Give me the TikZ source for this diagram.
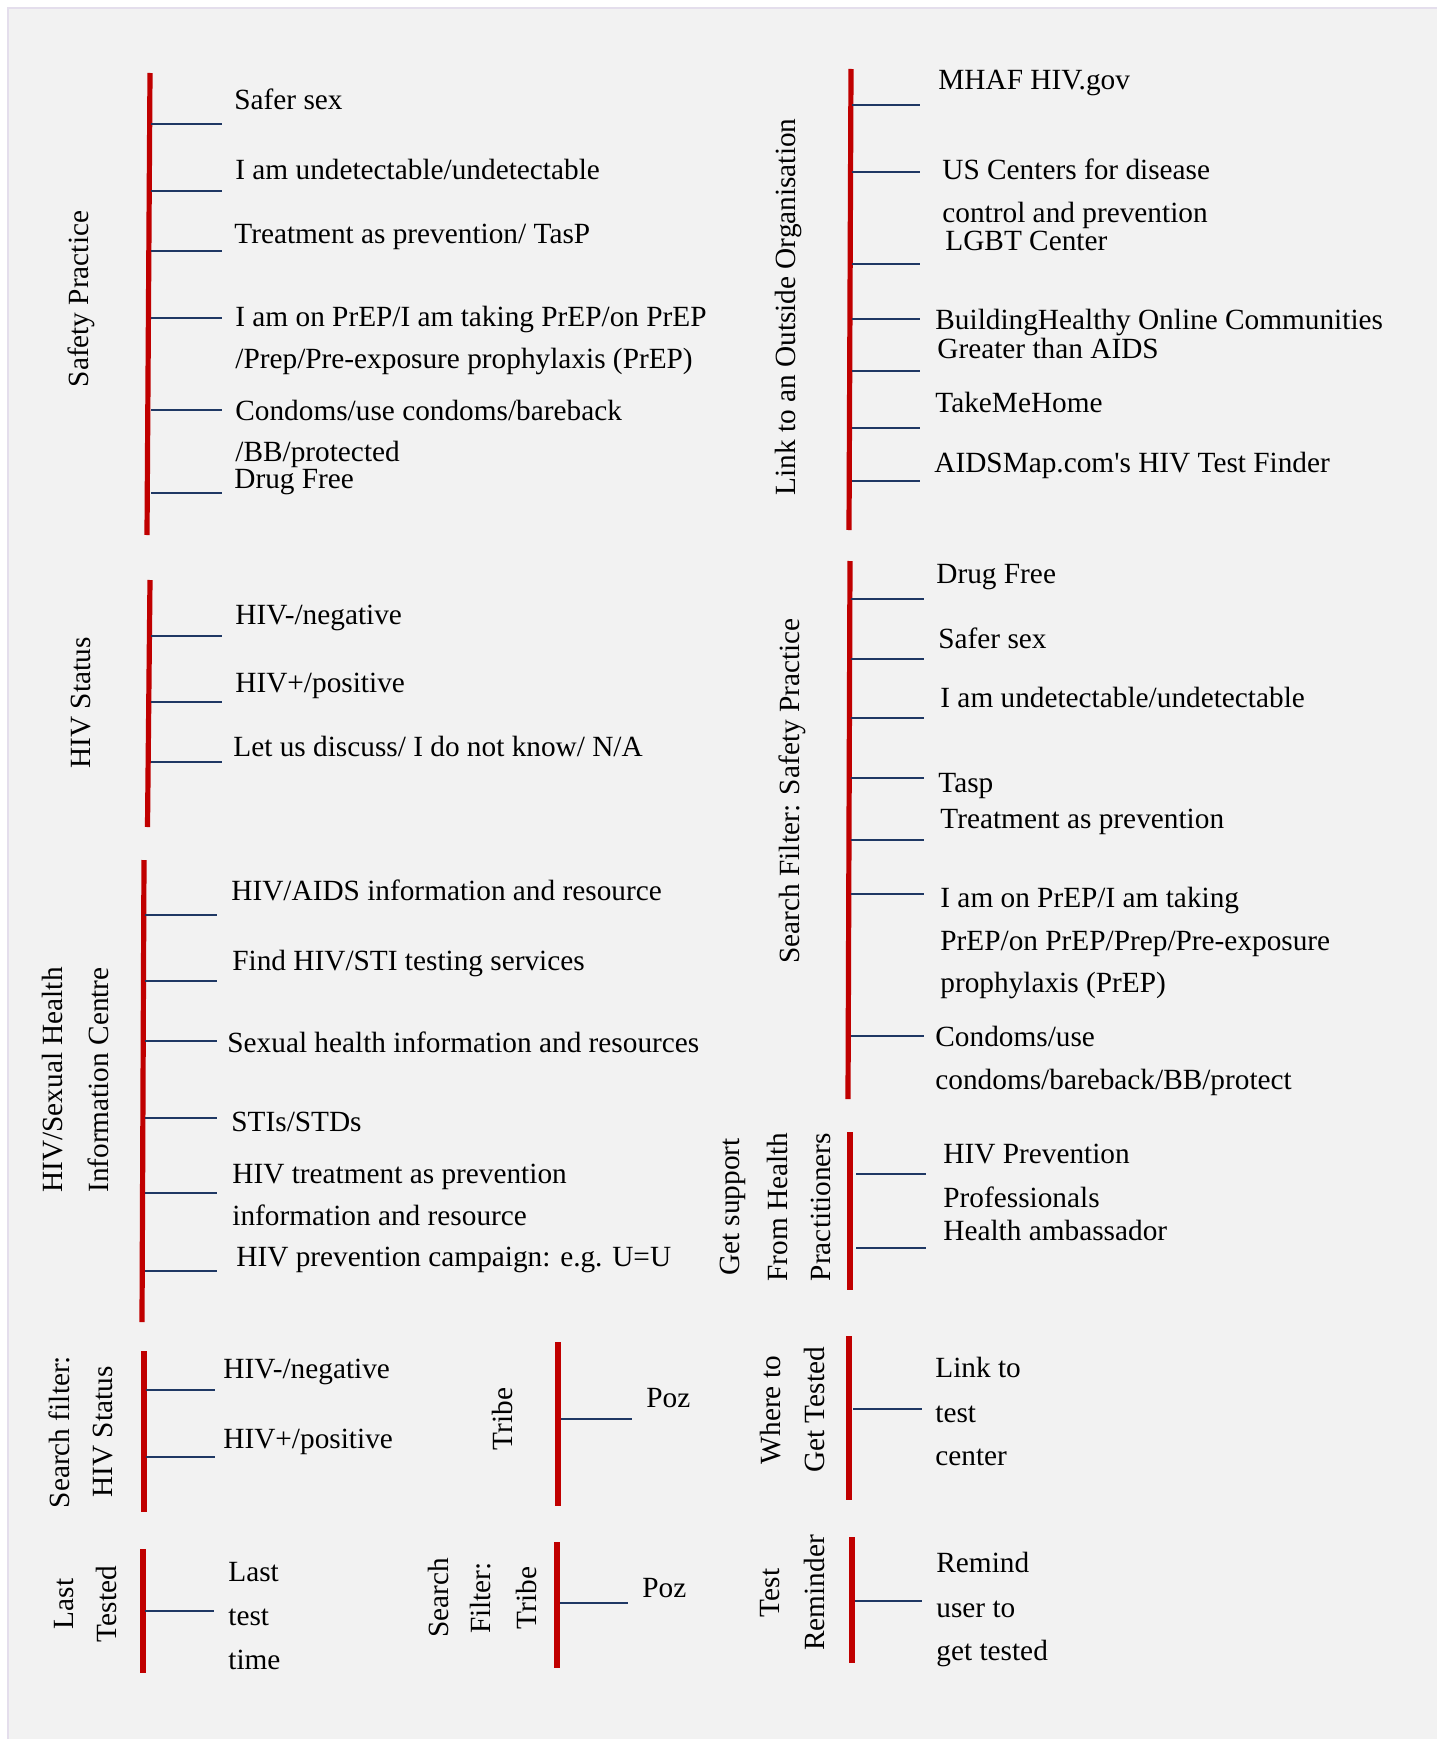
\documentclass[tikz,border=0pt]{standalone}
\usepackage{fontspec}
\setmainfont{Liberation Serif}
\newcommand\itemfont{\fontsize{14.65}{17}\selectfont}
\definecolor{barred}{HTML}{C00000}
\definecolor{twigblue}{HTML}{1F3864}
\definecolor{panelgrey}{HTML}{F2F2F2}
\definecolor{panelborder}{HTML}{E4DEEC}
\tikzset{
  redbar/.style={draw=barred, line width=2.6pt},
  twig/.style={draw=twigblue, line width=0.75pt},
  txt/.style={anchor=base west, inner sep=0pt, font=\itemfont, text=black},
  lab/.style={rotate=90, anchor=center, inner sep=0pt, font=\itemfont, text=black},
}
\begin{document}
\begin{tikzpicture}[x=0.5pt, y=-0.5pt]
\useasboundingbox (0,0) rectangle (1437,1739);
\fill[white] (0,0) rectangle (1437,1739);
\fill[panelgrey] (8,8) rectangle (1437,1739);
\draw[panelborder, line width=1pt] (8,1739) -- (8,8) -- (1437,8);

% ---------- Safety Practice ----------
\coordinate (sp-top) at (150,73);
\coordinate (sp-bot) at (147,535);
\draw[redbar] (sp-top) -- (sp-bot);
\foreach \i/\y in {1/124,2/191,3/251,4/318,5/410,6/493}{
  \coordinate (sp-\i-l) at (151,\y); \coordinate (sp-\i-r) at (222,\y);
  \draw[twig] (sp-\i-l) -- (sp-\i-r);}
\node[lab] (splab) at (81,299) {Safety Practice};
\node[txt] (sp1) at (234,110) {Safer sex};
\node[txt] (sp2) at (235,180) {I am undetectable/undetectable};
\node[txt] (sp3) at (234,243) {Treatment as prevention/ TasP};
\node[txt] (sp4) at (235,326) {I am on PrEP/I am taking PrEP/on PrEP};
\node[txt] (sp4b) at (235,368) {/Prep/Pre-exposure prophylaxis (PrEP)};
\node[txt] (sp5) at (235,420) {Condoms/use condoms/bareback};
\node[txt] (sp5b) at (235,461) {/BB/protected};
\node[txt] (sp6) at (234,488) {Drug Free};

% ---------- HIV Status ----------
\coordinate (hs-top) at (150,580);
\coordinate (hs-bot) at (147.5,827);
\draw[redbar] (hs-top) -- (hs-bot);
\foreach \i/\y in {1/636,2/702,3/762}{
  \coordinate (hs-\i-l) at (151,\y); \coordinate (hs-\i-r) at (222,\y);
  \draw[twig] (hs-\i-l) -- (hs-\i-r);}
\node[lab] (hslab) at (81,703) {HIV Status};
\node[txt] (hs1) at (235,624) {HIV-/negative};
\node[txt] (hs2) at (235,692) {HIV+/positive};
\node[txt] (hs3) at (233,756) {Let us discuss/ I do not know/ N/A};

% ---------- HIV/Sexual Health Information Centre ----------
\coordinate (ic-top) at (144,860);
\coordinate (ic-bot) at (142,1322);
\draw[redbar] (ic-top) -- (ic-bot);
\foreach \i/\y in {1/915,2/981,3/1041,4/1118,5/1193,6/1271}{
  \coordinate (ic-\i-l) at (145,\y); \coordinate (ic-\i-r) at (217,\y);
  \draw[twig] (ic-\i-l) -- (ic-\i-r);}
\node[lab] (iclab1) at (53,1080) {HIV/Sexual Health};
\node[lab] (iclab2) at (98,1080) {Information Centre};
\node[txt] (ic1) at (231,900) {HIV/AIDS information and resource};
\node[txt] (ic2) at (232,970) {Find HIV/STI testing services};
\node[txt] (ic3) at (227,1052) {Sexual health information and resources};
\node[txt] (ic4) at (231,1131) {STIs/STDs};
\node[txt] (ic5) at (232,1183) {HIV treatment as prevention};
\node[txt] (ic5b) at (232,1225) {information and resource};
\node[txt] (ic6) at (236,1266) {HIV prevention campaign: e.g. U=U};

% ---------- Search filter: HIV Status ----------
\coordinate (fh-top) at (144,1351);
\coordinate (fh-bot) at (144,1512);
\draw[redbar] (fh-top) -- (fh-bot);
\foreach \i/\y in {1/1390,2/1457}{
  \coordinate (fh-\i-l) at (146,\y); \coordinate (fh-\i-r) at (215,\y);
  \draw[twig] (fh-\i-l) -- (fh-\i-r);}
\node[lab] (fhlab1) at (59,1432) {Search filter:};
\node[lab] (fhlab2) at (103,1432) {HIV Status};
\node[txt] (fh1) at (223,1378) {HIV-/negative};
\node[txt] (fh2) at (223,1448) {HIV+/positive};

% ---------- Tribe ----------
\coordinate (tr-top) at (558,1342);
\coordinate (tr-bot) at (558,1506);
\draw[redbar] (tr-top) -- (tr-bot);
\coordinate (tr-1-l) at (561,1419); \coordinate (tr-1-r) at (632,1419);
\draw[twig] (tr-1-l) -- (tr-1-r);
\node[lab] (trlab) at (502,1419) {Tribe};
\node[txt] (tr1) at (646,1407) {Poz};

% ---------- Last Tested ----------
\coordinate (lt-top) at (143,1549);
\coordinate (lt-bot) at (143,1673);
\draw[redbar] (lt-top) -- (lt-bot);
\coordinate (lt-1-l) at (145,1611); \coordinate (lt-1-r) at (214,1611);
\draw[twig] (lt-1-l) -- (lt-1-r);
\node[lab] (ltlab1) at (64,1604) {Last};
\node[lab] (ltlab2) at (106,1604) {Tested};
\node[txt] (lt1) at (228,1581) {Last};
\node[txt] (lt1b) at (228,1625) {test};
\node[txt] (lt1c) at (228,1669) {time};

% ---------- Search Filter: Tribe ----------
\coordinate (ft-top) at (557,1542);
\coordinate (ft-bot) at (557,1668);
\draw[redbar] (ft-top) -- (ft-bot);
\coordinate (ft-1-l) at (560,1603); \coordinate (ft-1-r) at (628,1603);
\draw[twig] (ft-1-l) -- (ft-1-r);
\node[lab] (ftlab1) at (438,1598) {Search};
\node[lab] (ftlab2) at (481,1598) {Filter:};
\node[lab] (ftlab3) at (526,1598) {Tribe};
\node[txt] (ft1) at (642,1597) {Poz};

% ---------- Link to an Outside Organisation ----------
\coordinate (lo-top) at (851,69);
\coordinate (lo-bot) at (849,530);
\draw[redbar] (lo-top) -- (lo-bot);
\foreach \i/\y in {1/105,2/172,3/264,4/319,5/371,6/428,7/481}{
  \coordinate (lo-\i-l) at (852,\y); \coordinate (lo-\i-r) at (920,\y);
  \draw[twig] (lo-\i-l) -- (lo-\i-r);}
\node[lab] (lolab) at (788,307) {Link to an Outside Organisation};
\node[txt] (lo1) at (938,90) {MHAF HIV.gov};
\node[txt] (lo2) at (942,180) {US Centers for disease};
\node[txt] (lo2b) at (942,223) {control and prevention};
\node[txt] (lo3) at (945,250) {LGBT Center};
\node[txt] (lo4) at (935,329) {BuildingHealthy Online Communities};
\node[txt] (lo5) at (937,358) {Greater than AIDS};
\node[txt] (lo6) at (935,412) {TakeMeHome};
\node[txt] (lo7) at (934,472) {AIDSMap.com\textquotesingle s HIV Test Finder};

% ---------- Search Filter: Safety Practice ----------
\coordinate (fs-top) at (850,561);
\coordinate (fs-bot) at (848,1099);
\draw[redbar] (fs-top) -- (fs-bot);
\foreach \i/\y in {1/599,2/659,3/718,4/778,5/840,6/894,7/1036}{
  \coordinate (fs-\i-l) at (851,\y); \coordinate (fs-\i-r) at (924,\y);
  \draw[twig] (fs-\i-l) -- (fs-\i-r);}
\node[lab] (fslab) at (792,791) {Search Filter: Safety Practice};
\node[txt] (fs1) at (936,583) {Drug Free};
\node[txt] (fs2) at (938,648) {Safer sex};
\node[txt] (fs3) at (940,707) {I am undetectable/undetectable};
\node[txt] (fs4) at (938,792) {Tasp};
\node[txt] (fs5) at (940,828) {Treatment as prevention};
\node[txt] (fs6) at (940,907) {I am on PrEP/I am taking};
\node[txt] (fs6b) at (940,950) {PrEP/on PrEP/Prep/Pre-exposure};
\node[txt] (fs6c) at (940,992) {prophylaxis (PrEP)};
\node[txt] (fs7) at (935,1046) {Condoms/use};
\node[txt] (fs7b) at (935,1089) {condoms/bareback/BB/protect};

% ---------- Get support From Health Practitioners ----------
\coordinate (gs-top) at (850,1132);
\coordinate (gs-bot) at (850,1290);
\draw[redbar] (gs-top) -- (gs-bot);
\foreach \i/\y in {1/1174,2/1248}{
  \coordinate (gs-\i-l) at (856,\y); \coordinate (gs-\i-r) at (926,\y);
  \draw[twig] (gs-\i-l) -- (gs-\i-r);}
\node[lab] (gslab1) at (733,1207) {Get support};
\node[lab] (gslab2) at (777,1207) {From Health};
\node[lab] (gslab3) at (821,1207) {Practitioners};
\node[txt] (gs1) at (943,1163) {HIV Prevention};
\node[txt] (gs1b) at (943,1207) {Professionals};
\node[txt] (gs2) at (943,1240) {Health ambassador};

% ---------- Where to Get Tested ----------
\coordinate (wt-top) at (849,1336);
\coordinate (wt-bot) at (849,1500);
\draw[redbar] (wt-top) -- (wt-bot);
\coordinate (wt-1-l) at (853,1409); \coordinate (wt-1-r) at (922,1409);
\draw[twig] (wt-1-l) -- (wt-1-r);
\node[lab] (wtlab1) at (771,1410) {Where to};
\node[lab] (wtlab2) at (814,1410) {Get Tested};
\node[txt] (wt1) at (935,1377) {Link to};
\node[txt] (wt1b) at (935,1422) {test};
\node[txt] (wt1c) at (935,1465) {center};

% ---------- Test Reminder ----------
\coordinate (rm-top) at (852,1537);
\coordinate (rm-bot) at (852,1663);
\draw[redbar] (rm-top) -- (rm-bot);
\coordinate (rm-1-l) at (855,1601); \coordinate (rm-1-r) at (922,1601);
\draw[twig] (rm-1-l) -- (rm-1-r);
\node[lab] (rmlab1) at (770,1593) {Test};
\node[lab] (rmlab2) at (814,1593) {Reminder};
\node[txt] (rm1) at (936,1572) {Remind};
\node[txt] (rm1b) at (936,1617) {user to};
\node[txt] (rm1c) at (936,1660) {get tested};
\end{tikzpicture}
\end{document}
